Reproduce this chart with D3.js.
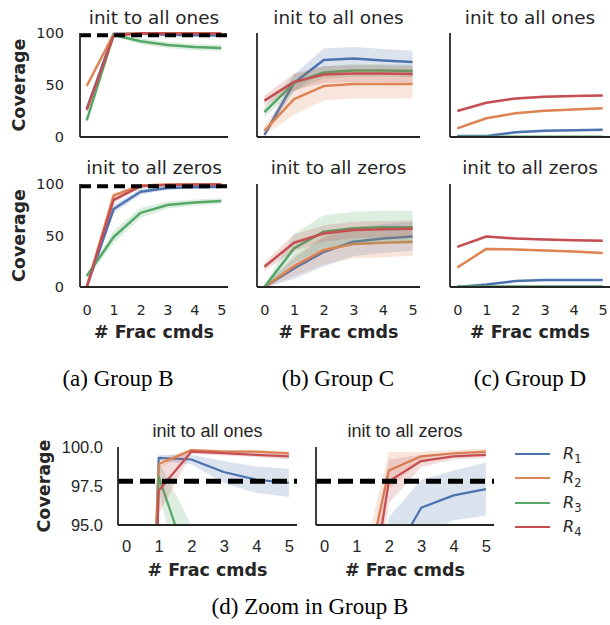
<!DOCTYPE html>
<html>
<head>
<meta charset="utf-8">
<script src="https://cdn.jsdelivr.net/npm/d3@7"></script>
<style>
  body { margin: 0; background: #fff; }
  text { fill: #262626; }
</style>
</head>
<body>
<svg id="chart" width="610" height="625"></svg>
<script>
// ---- data ----
var fracCmds = [0, 1, 2, 3, 4, 5];
var seriesNames = ["1", "2", "3", "4"];   // R_1 .. R_4
var colors = ["#4c72b0", "#dd8452", "#55a868", "#c44e52"];
var yTicksFull = [0, 50, 100];
var yTicksZoom = [95, 97.5, 100];
var targetCoverage = 97.8;

// Group B, init to all ones  (rows: R1..R4)
var groupBOnesMean = [
  [27, 99.3, 99.2, 98.4, 97.9, 97.7],
  [49, 98.9, 99.8, 99.7, 99.7, 99.6],
  [16, 98.1, 92.0, 88.5, 86.5, 85.6],
  [26, 97.2, 99.7, 99.6, 99.5, 99.4]
];
var groupBOnesBand = [
  [2, 0.2, 0.3, 0.7, 0.85, 0.9],
  [2, 0.3, 0.1, 0.1, 0.1, 0.15],
  [2, 1.0, 3.0, 3.0, 3.0, 3.0],
  [2, 1.5, 0.15, 0.15, 0.15, 0.2]
];
// Group B, init to all zeros
var groupBZerosMean = [
  [0, 75.7, 92.5, 96.1, 96.9, 97.3],
  [0, 89.0, 98.5, 99.4, 99.6, 99.7],
  [10.7, 48.5, 72.0, 79.6, 82.0, 83.5],
  [0, 84.5, 97.8, 99.1, 99.4, 99.5]
];
var groupBZerosBand = [
  [0.5, 4, 3, 1.8, 1.6, 1.7],
  [0.5, 2, 1.2, 0.3, 0.2, 0.2],
  [2, 6, 5, 3.5, 3, 3],
  [0.5, 3, 1.4, 0.4, 0.2, 0.2]
];
// Group C
var groupCOnesMean = [
  [2, 52, 74, 75.5, 73.5, 72],
  [6, 36.5, 49, 51, 51, 51],
  [24, 52, 62, 64, 64, 63.5],
  [35, 53, 60, 61, 61, 60.5]
];
var groupCOnesBand = [
  [2, 8, 11, 11, 11, 11],
  [4, 15, 14, 14, 14, 14],
  [5, 8, 6, 6, 6, 6],
  [5, 8, 8, 8, 8, 8]
];
var groupCZerosMean = [
  [0, 18, 34, 44, 47, 49],
  [0, 20.4, 36, 41.7, 43, 44],
  [0, 37.5, 53.7, 57, 58, 58],
  [19.7, 43, 52, 55.3, 56, 56.5]
];
var groupCZerosBand = [
  [1, 10, 14, 14, 14, 14],
  [1, 10, 14, 14, 14, 14],
  [1, 14, 16, 16, 16, 16],
  [4, 8, 8, 8, 8, 8]
];
// Group D
var groupDOnesMean = [
  [1, 1, 4.5, 6, 6.5, 7],
  [8.3, 18, 22.8, 25.3, 26.5, 27.6],
  [0.3, 0.3, 0.3, 0.3, 0.3, 0.3],
  [25, 33, 37, 38.8, 39.5, 40]
];
var groupDOnesBand = [
  [0.5, 0.5, 1, 1, 1, 1],
  [1, 1, 1, 1, 1, 1],
  [0.3, 0.3, 0.3, 0.3, 0.3, 0.3],
  [1, 1, 1, 1, 1, 1]
];
var groupDZerosMean = [
  [0, 2.5, 5.8, 6.8, 6.8, 6.8],
  [19, 37, 36.5, 35.5, 34.5, 33],
  [0.5, 0.5, 0.5, 0.5, 0.5, 0.5],
  [39, 49, 47, 46, 45.5, 45]
];
var groupDZerosBand = [
  [0.3, 0.6, 0.8, 0.8, 0.8, 0.8],
  [1, 1, 1, 1, 1, 1],
  [0.3, 0.3, 0.3, 0.3, 0.3, 0.3],
  [1, 1, 1, 1, 1, 1]
];

var svg = d3.select("#chart");
var clipCount = 0;

function drawPanel(p) {
  var x = d3.scaleLinear().domain([-0.25, 5.25]).range([p.left, p.right]);
  var y = d3.scaleLinear().domain(p.yDomain).range([p.bottom, p.top]);

  var id = "clip" + (clipCount++);
  svg.append("clipPath").attr("id", id)
    .append("rect")
      .attr("x", p.left).attr("y", p.top - p.clipPad)
      .attr("width", p.right - p.left).attr("height", p.bottom - p.top + p.clipPad);

  var g = svg.append("g").attr("clip-path", "url(#" + id + ")");

  p.mean.forEach(function(m, i) {
    var rows = fracCmds.map(function(f, j) { return { f: f, m: m[j], e: p.band[i][j] }; });
    g.append("path").datum(rows)
      .attr("fill", colors[i]).attr("fill-opacity", 0.2)
      .attr("d", d3.area()
        .x(function(d) { return x(d.f); })
        .y0(function(d) { return y(d.m - d.e); })
        .y1(function(d) { return y(d.m + d.e); }));
    g.append("path").datum(rows)
      .attr("fill", "none").attr("stroke", colors[i])
      .attr("stroke-width", p.lw).attr("stroke-linejoin", "round")
      .attr("d", d3.line()
        .x(function(d) { return x(d.f); })
        .y(function(d) { return y(d.m); }));
  });

  if (p.dash) {
    svg.append("line")
      .attr("x1", x(-0.25)).attr("x2", x(5.25))
      .attr("y1", y(targetCoverage)).attr("y2", y(targetCoverage))
      .attr("stroke", "#000").attr("stroke-width", p.dashW)
      .attr("stroke-dasharray", p.dashArr);
  }

  // spines
  svg.append("line").attr("x1", p.left).attr("x2", p.left).attr("y1", p.top).attr("y2", p.bottom)
    .attr("stroke", "#262626").attr("stroke-width", 1.8);
  svg.append("line").attr("x1", p.left).attr("x2", p.right).attr("y1", p.bottom).attr("y2", p.bottom)
    .attr("stroke", "#262626").attr("stroke-width", 1.8);

  if (p.xTicks) {
    var xa = svg.append("g").attr("transform", "translate(0," + p.bottom + ")")
      .call(d3.axisBottom(x).tickValues(fracCmds).tickSize(0).tickPadding(p.xPad)
        .tickFormat(d3.format("d")));
    xa.select(".domain").remove();
    xa.selectAll("text").style("font-family", p.tickFont).style("font-size", p.tickSize + "px").style("fill", "#262626");
  }
  if (p.yTicks) {
    var ya = svg.append("g").attr("transform", "translate(" + p.left + ",0)")
      .call(d3.axisLeft(y).tickValues(p.yTicks).tickSize(0).tickPadding(p.yPad)
        .tickFormat(p.yFormat));
    ya.select(".domain").remove();
    ya.selectAll("text").style("font-family", p.tickFont).style("font-size", p.tickSize + "px").style("fill", "#262626");
  }
  if (p.title) {
    svg.append("text").attr("x", (p.left + p.right) / 2).attr("y", p.titleY)
      .attr("text-anchor", "middle")
      .style("font-family", p.titleFont).style("font-size", p.titleSize + "px")
      .text(p.title);
  }
  if (p.xLabel) {
    svg.append("text").attr("x", (p.left + p.right) / 2).attr("y", p.xLabelY)
      .attr("text-anchor", "middle")
      .style("font-family", "DejaVu Sans").style("font-weight", "bold").style("font-size", "17.5px")
      .text("# Frac cmds");
  }
  if (p.yLabel) {
    svg.append("text")
      .attr("transform", "translate(" + p.yLabelX + "," + ((p.top + p.bottom) / 2) + ") rotate(-90)")
      .attr("text-anchor", "middle")
      .style("font-family", "DejaVu Sans").style("font-weight", "bold").style("font-size", "17.5px")
      .text("Coverage");
  }
}

var cols = [
  { left: 80, right: 228, ones: [groupBOnesMean, groupBOnesBand], zeros: [groupBZerosMean, groupBZerosBand], dash: true, yl: true },
  { left: 257, right: 420, ones: [groupCOnesMean, groupCOnesBand], zeros: [groupCZerosMean, groupCZerosBand], dash: false, yl: false },
  { left: 450, right: 610, ones: [groupDOnesMean, groupDOnesBand], zeros: [groupDZerosMean, groupDZerosBand], dash: false, yl: false }
];
var rows = [
  { top: 33, bottom: 137, key: "ones", title: "init to all ones", titleY: 24, xTicks: false },
  { top: 184, bottom: 287, key: "zeros", title: "init to all zeros", titleY: 174, xTicks: true }
];

rows.forEach(function(r) {
  cols.forEach(function(c) {
    drawPanel({
      left: c.left, right: c.right, top: r.top, bottom: r.bottom,
      yDomain: [0, 100], mean: c[r.key][0], band: c[r.key][1],
      lw: 2.5, clipPad: 3,
      dash: c.dash, dashW: 4, dashArr: "11,6",
      xTicks: r.xTicks, xPad: 17.5,
      yTicks: c.yl ? yTicksFull : null, yPad: 16, yFormat: d3.format("d"),
      tickFont: "DejaVu Sans", tickSize: 14.5,
      title: r.title, titleY: r.titleY, titleFont: "DejaVu Sans", titleSize: 18.4,
      xLabel: r.xTicks, xLabelY: 338,
      yLabel: c.yl, yLabelX: 25
    });
  });
});

// zoom in Group B
var zoomPanels = [
  { left: 118, right: 297, data: [groupBOnesMean, groupBOnesBand], title: "init to all ones", yTicks: yTicksZoom, yLabel: true },
  { left: 316, right: 494, data: [groupBZerosMean, groupBZerosBand], title: "init to all zeros", yTicks: null, yLabel: false }
];
zoomPanels.forEach(function(z) {
  drawPanel({
    left: z.left, right: z.right, top: 447, bottom: 525,
    yDomain: [95, 100], mean: z.data[0], band: z.data[1],
    lw: 2.2, clipPad: 0,
    dash: true, dashW: 5, dashArr: "15,7",
    xTicks: true, xPad: 15.3,
    yTicks: z.yTicks, yPad: 15, yFormat: d3.format(".1f"),
    tickFont: "Liberation Sans", tickSize: 16.5,
    title: z.title, titleY: 437, titleFont: "Liberation Sans", titleSize: 18,
    xLabel: true, xLabelY: 576,
    yLabel: z.yLabel, yLabelX: 50
  });
});

// legend
var legendY = [454, 478, 503, 527];
seriesNames.forEach(function(s, i) {
  svg.append("line").attr("x1", 515).attr("x2", 550).attr("y1", legendY[i]).attr("y2", legendY[i])
    .attr("stroke", colors[i]).attr("stroke-width", 2.2);
  var t = svg.append("text").attr("x", 563).attr("y", legendY[i] + 5)
    .style("font-family", "DejaVu Sans").style("font-style", "italic").style("font-size", "16px");
  t.append("tspan").text("R");
  t.append("tspan").attr("dy", 4).style("font-size", "11.5px").style("font-style", "normal").text(s);
});

// captions
var captions = [
  { text: "(a) Group B", x: 118, y: 386 },
  { text: "(b) Group C", x: 338, y: 386 },
  { text: "(c) Group D", x: 530, y: 386 },
  { text: "(d) Zoom in Group B", x: 310, y: 614 }
];
captions.forEach(function(c) {
  svg.append("text").attr("x", c.x).attr("y", c.y).attr("text-anchor", "middle")
    .style("font-family", "Liberation Serif").style("font-size", "23px").style("fill", "#000")
    .text(c.text);
});
</script>
</body>
</html>
